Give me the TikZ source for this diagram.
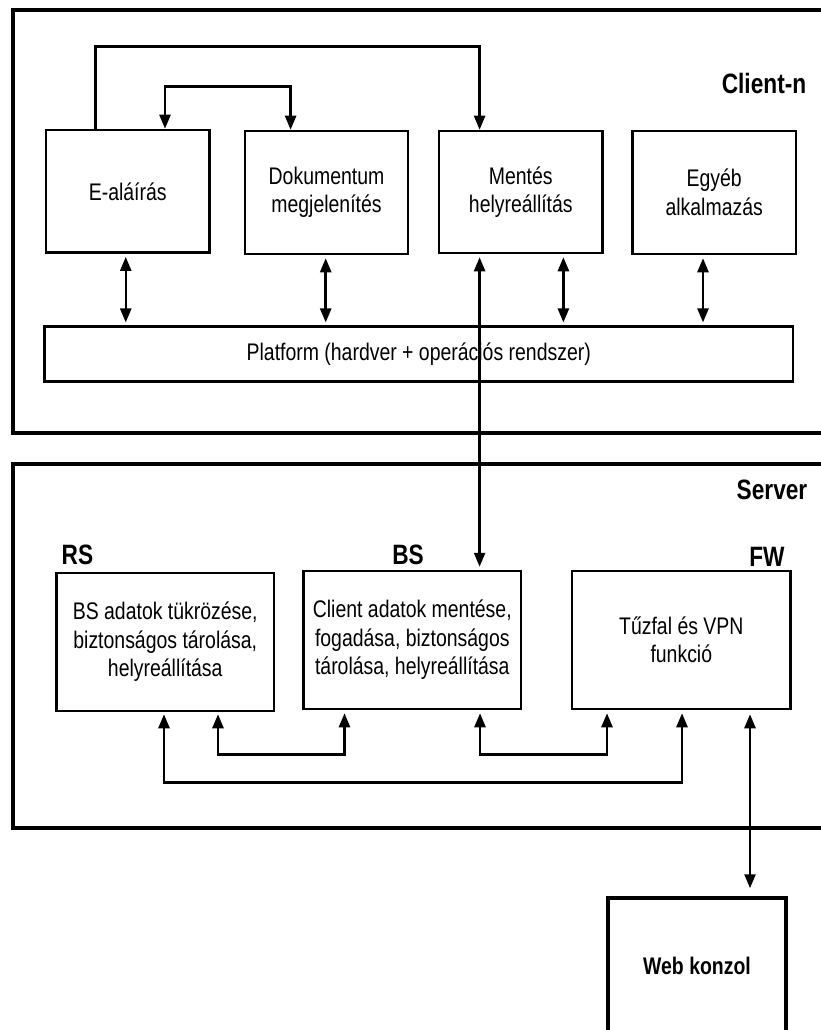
\documentclass[tikz,border=0pt]{standalone}
\usepackage{fontspec}
\setmainfont{Liberation Sans}[FakeStretch=0.81]
\usetikzlibrary{arrows.meta}
\begin{document}
\begin{tikzpicture}[x=1pt,y=-1pt,
  box/.style={draw, line width=2.5pt, inner sep=0pt, align=center,
    font=\fontsize{24}{28.5}\selectfont},
  outerbox/.style={draw, line width=4pt, inner sep=0pt},
  lbl/.style={font=\fontsize{28}{30}\selectfont\bfseries, inner sep=0pt},
  one/.style={line width=2.5pt, -{Triangle[length=14pt,width=11pt]}},
  bi/.style={line width=2.5pt, {Triangle[length=14pt,width=11pt]}-{Triangle[length=14pt,width=11pt]}}]
\useasboundingbox (0,0) rectangle (821,1030);
\clip (0,0) rectangle (821,1030);
\fill[white] (0,0) rectangle (821,1030);

% outer frames
\node[outerbox, minimum width=827pt, minimum height=423pt] (client) at (426.5,221.5) {};
\node[outerbox, minimum width=827pt, minimum height=364pt] (server) at (426.5,646) {};

% client boxes
\node[box, minimum width=163.5pt, minimum height=122.7pt] (ea) at (127.75,191.3) {E-aláírás};
\node[box, minimum width=163pt, minimum height=123pt] (dok) at (326.5,192.5) {Dokumentum\\megjelenítés};
\node[box, minimum width=163.6pt, minimum height=122pt] (ment) at (520.8,192) {Mentés\\helyreállítás};
\node[box, minimum width=163.5pt, minimum height=123pt] (egy) at (714.2,192.5) {Egyéb\\alkalmazás};
\node[box, minimum width=748.5pt, minimum height=55pt] (plat) at (418.75,354.2) {Platform (hardver + operációs rendszer)};

\node[lbl] (clientlbl) at (764,83) {Client-n};

% server boxes
\node[box, minimum width=217.5pt, minimum height=138pt] (rs) at (165.25,642) {BS adatok tükrözése,\\biztonságos tárolása,\\helyreállítása};
\node[box, minimum width=217.3pt, minimum height=138pt] (bs) at (412.3,640) {Client adatok mentése,\\fogadása, biztonságos\\tárolása, helyreállítása};
\node[box, minimum width=218.6pt, minimum height=138pt] (fw) at (681.3,640) {Tűzfal és VPN\\funkció};
\node[box, line width=3.5pt, minimum width=178pt, minimum height=136pt, font=\fontsize{24}{28}\selectfont\bfseries] (web) at (697,966) {Web konzol};

\node[lbl] (serverlbl) at (772,490) {Server};
\node[lbl] (rslbl) at (77.5,555) {RS};
\node[lbl] (bslbl) at (408,555) {BS};
\node[lbl] (fwlbl) at (767,557) {FW};

% client connectors
\draw[one] ([xshift=-32.45pt]ea.north) -- ++(0,-82.3) -| ([xshift=-41.2pt]ment.north);
\draw[bi] ([xshift=37.25pt]ea.north) -- ++(0,-42) -| ([xshift=-35.9pt]dok.north);
\draw[bi, shorten <=3pt, shorten >=3pt] ([xshift=-2pt]ea.south) -- ([xshift=-2pt]ea.south |- plat.north);
\draw[bi, shorten <=3pt, shorten >=3pt] ([xshift=-0.8pt]dok.south) -- ([xshift=-0.8pt]dok.south |- plat.north);
\draw[bi, shorten <=3pt, shorten >=3pt] ([xshift=42.6pt]ment.south) -- ([xshift=42.6pt]ment.south |- plat.north);
\draw[bi, shorten <=3pt, shorten >=3pt] ([xshift=-11.2pt]egy.south) -- ([xshift=-11.2pt]egy.south |- plat.north);
\draw[bi, shorten <=3pt, shorten >=3pt] ([xshift=-41.2pt]ment.south) -- ([xshift=-41.2pt]ment.south |- bs.north);

% server connectors
\draw[bi, shorten <=2pt, shorten >=3pt] ([xshift=52.75pt]rs.south) -- ++(0,42) -| ([xshift=-67.8pt]bs.south);
\draw[bi, shorten <=3pt, shorten >=3pt] ([xshift=67.7pt]bs.south) -- ++(0,44) -| ([xshift=-74.3pt]fw.south);
\draw[bi, shorten <=2pt, shorten >=3pt] ([xshift=-1.25pt]rs.south) -- ++(0,70) -| ([xshift=0.7pt]fw.south);
\draw[bi, shorten <=4pt, shorten >=8pt] ([xshift=68.7pt]fw.south) -- ([xshift=68.7pt]fw.south |- web.north);
\end{tikzpicture}
\end{document}
